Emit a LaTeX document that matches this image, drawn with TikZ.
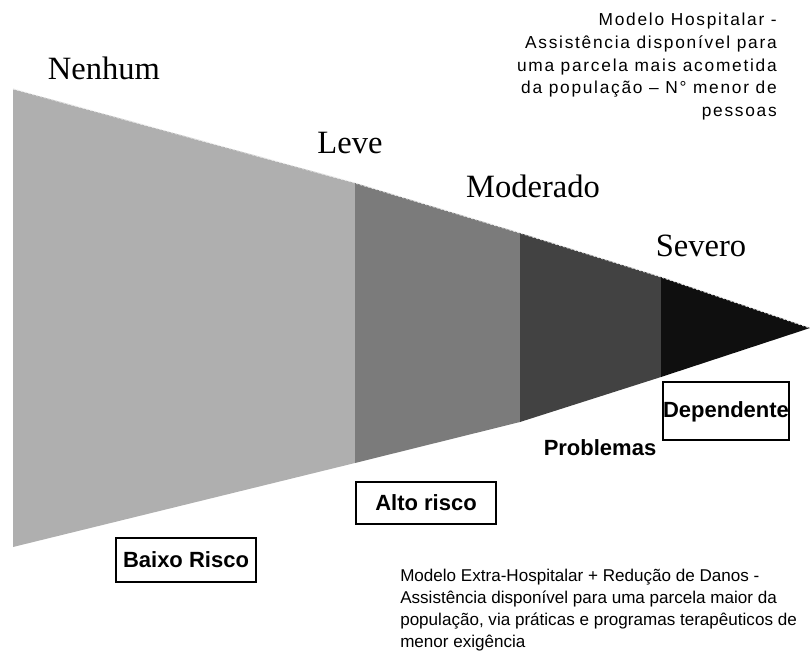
\documentclass[tikz,border=0pt]{standalone}
\usepackage{fontspec}
\setmainfont{Liberation Serif}
\setsansfont{Liberation Sans}
\newfontfamily\spacedsans[LetterSpace=10]{Liberation Sans}

\definecolor{levelNone}{HTML}{AFAFAF}
\definecolor{levelLight}{HTML}{7B7B7B}
\definecolor{levelMid}{HTML}{424242}
\definecolor{levelSevere}{HTML}{0F0F0F}

\newcommand{\cutLeft}{13}
\newcommand{\cutLight}{355}
\newcommand{\cutMid}{520}
\newcommand{\cutSevere}{661}
\newcommand{\cutApex}{810}

\tikzset{
  levelname/.style={inner sep=0, anchor=base, font=\rmfamily\fontsize{24.4}{28}\selectfont},
  risktext/.style={inner sep=0, font=\sffamily\bfseries\fontsize{16.5}{19}\selectfont},
  riskbox/.style={draw=black, line width=1.6pt, inner sep=0},
  notetext/.style={inner sep=0, font=\sffamily\fontsize{12.8}{16.4}\selectfont}
}

\begin{document}
\begin{tikzpicture}[x=0.75pt,y=-0.75pt]
    \useasboundingbox (0,0) rectangle (810,652);
    % the four bands of the wedge
    \fill[levelNone] (\cutLeft,89) -- (\cutLight,183) -- (\cutLight,463) -- (\cutLeft,547) -- cycle;
    \fill[levelLight] (\cutLight,183) -- (\cutMid,233) -- (\cutMid,422) -- (\cutLight,463) -- cycle;
    \fill[levelMid] (\cutMid,233) -- (\cutSevere,277) -- (\cutSevere,377) -- (\cutMid,422) -- cycle;
    \fill[levelSevere] (\cutSevere,277) -- (\cutApex,328) -- (\cutSevere,377) -- cycle;
    \draw[white!80!gray, line width=0.8pt, dash pattern=on 1.5pt off 1.5pt]
      (\cutLeft,89) -- (\cutLight,183) -- (\cutMid,233) -- (\cutSevere,277) -- (\cutApex,328);

    \node[levelname] (nenhum) at (104,80) {Nenhum};
    \node[levelname] (leve) at (350,154) {Leve};
    \node[levelname] (moderado) at (533,198) {Moderado};
    \node[levelname] (severo) at (701,257) {Severo};

    \node[riskbox, minimum width=105pt, minimum height=33pt] (baixo_box) at (186,560) {};
    \node[risktext] (baixo) at (baixo_box.center) {Baixo Risco};
    \node[riskbox, minimum width=105pt, minimum height=32pt] (alto_box) at (426,503) {};
    \node[risktext] (alto) at (alto_box.center) {Alto risco};
    \node[riskbox, minimum width=94pt, minimum height=43pt] (dep_box) at (726,411) {};
    \node[risktext] (dependente) at (726,412) {Dependente};
    \node[risktext] (problemas) at (600,448) {Problemas};

    \node[notetext, anchor=north east, align=right, font=\sffamily\fontsize{13}{17}\selectfont] (hospital) at (777,13)
      {\spacedsans Modelo Hospitalar -\\\spacedsans Assistência disponível para\\\spacedsans uma parcela mais acometida\\\spacedsans da população – N° menor de\\\spacedsans pessoas};
    \node[notetext, anchor=north west, align=left] (extra) at (400,569)
      {Modelo Extra-Hospitalar + Redução de Danos -\\Assistência disponível para uma parcela maior da\\população, via práticas e programas terapêuticos de\\menor exigência};
\end{tikzpicture}
\end{document}
